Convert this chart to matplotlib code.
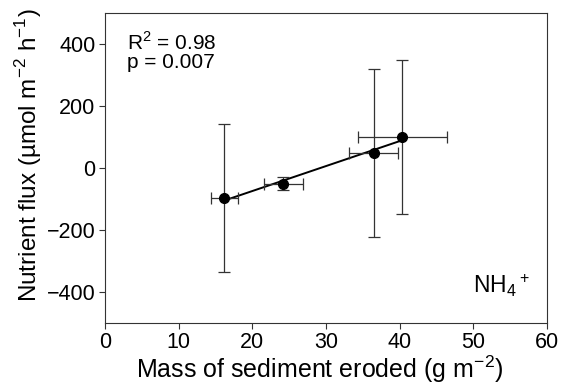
import numpy as np
from matplotlib import pyplot as plt

# values
mass = [16.2, 24.2, 36.5, 40.4]
mass_err = [1.8, 2.65, 3.3, 6.05]
flux = [-98, -51, 48, 100]
flux_err = [239, 22, 270, 249]

plt.rcParams['font.family'] = ['Liberation Sans', 'DejaVu Sans']
plt.rcParams['mathtext.fontset'] = 'custom'
plt.rcParams['mathtext.rm'] = 'Liberation Sans'

fig = plt.figure(figsize=(5.66, 3.86), dpi=100)
ax = fig.add_axes([0.1855, 0.164, 0.7805, 0.803])

# regression line through the points
coef = np.polyfit(mass, flux, 1)
xs = np.array([min(mass), max(mass)])
ax.plot(xs, np.polyval(coef, xs), color='black', lw=1.4, zorder=2)

ax.errorbar(mass, flux, xerr=mass_err, yerr=flux_err, fmt='o', color='black',
            ms=7, ecolor='#333333', elinewidth=0.9, capsize=4, capthick=0.9, zorder=3)

ax.set_xlim(0, 60)
ax.set_ylim(-500, 500)
ax.set_xticks(range(0, 61, 10))
ax.set_yticks(range(-400, 401, 200))
ax.set_yticklabels(['\u2212400', '\u2212200', '0', '200', '400'])
ax.tick_params(direction='out', length=4, width=0.8, labelsize=15.5, color='#333333', pad=3)
for s in ax.spines.values():
    s.set_linewidth(0.8)
    s.set_color('#333333')

ax.set_xlabel('Mass of sediment eroded (g m$^{\u22122}$)', fontsize=18, labelpad=0)
ax.set_ylabel('Nutrient flux (\u00b5mol m$^{\u22122}$ h$^{\u22121}$)', fontsize=17.5, labelpad=2)
ax.xaxis.label.set_x(0.487)
ax.yaxis.label.set_y(0.54)

ax.text(0.05, 0.94, 'R$^2$ = 0.98\np = 0.007', transform=ax.transAxes,
        fontsize=15, va='top', ha='left', linespacing=0.95)
ax.text(0.962, 0.075, 'NH$_4$$^+$', transform=ax.transAxes,
        fontsize=16.5, va='bottom', ha='right')

fig.savefig('out.png', dpi=100)
